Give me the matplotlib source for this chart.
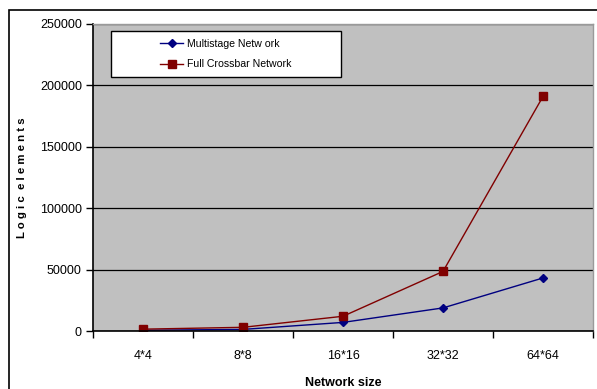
import matplotlib.pyplot as plt
from matplotlib.patches import Rectangle
import numpy as np

sizes = ["4*4", "8*8", "16*16", "32*32", "64*64"]
multistage = [600, 1300, 7000, 18800, 43200]
crossbar = [1500, 3000, 12000, 48500, 191000]

plt.rcParams['font.family'] = ['Liberation Sans', 'DejaVu Sans']

W, H = 597, 389
fig = plt.figure(figsize=(W / 100, H / 100), dpi=100)

# outer chart frame, open at right and bottom
fig.patches.append(Rectangle((9 / W, -0.1), 1.2, 1.1 - 10 / H,
                             transform=fig.transFigure, fill=False,
                             edgecolor='black', linewidth=1.2, zorder=0))

ax = fig.add_axes([93 / W, (H - 331) / H, 500 / W, 307 / H])
ax.set_facecolor('#C0C0C0')

x = np.arange(len(sizes))
ax.plot(x, multistage, color='#000080', marker='D', markersize=4.5,
        linewidth=1, label='Multistage Netw ork')
ax.plot(x, crossbar, color='#800000', marker='s', markersize=5.5,
        linewidth=1, label='Full Crossbar Network')

ax.set_xlim(-0.5, len(sizes) - 0.5)
ax.set_ylim(0, 250000)
ax.set_yticks(np.arange(0, 250001, 50000))
ax.yaxis.grid(True, color='black', linewidth=0.9)
ax.set_axisbelow(True)

ax.set_xticks(x)
ax.set_xticklabels(sizes)
ax.set_xticks(np.arange(-0.5, len(sizes)), minor=True)
ax.tick_params(axis='x', which='major', length=0, pad=14, labelsize=9)
ax.tick_params(axis='x', which='minor', length=5, direction='out', width=1)
ax.tick_params(axis='y', length=5, width=1, labelsize=9, pad=3)

for side in ('left', 'bottom'):
    ax.spines[side].set_color('black')
    ax.spines[side].set_linewidth(1.2)
for side in ('top', 'right'):
    ax.spines[side].set_color('#9a9a9a')
    ax.spines[side].set_linewidth(1)

ax.set_xlabel('Network size', fontsize=9, fontweight='bold')
ax.xaxis.set_label_coords(0.5, -(377 - 331) / 307)
ax.set_ylabel('L o g i c  e l e m e n t s', fontsize=8.2, fontweight='bold')
ax.yaxis.set_label_coords(-(93 - 27) / 500, 0.5)

# legend: white box with the entries centred inside it
box_l, box_r, box_t, box_b = 111, 341, 31, 77
fig.patches.append(Rectangle((box_l / W, 1 - box_b / H),
                             (box_r - box_l) / W, (box_b - box_t) / H,
                             transform=fig.transFigure, facecolor='white',
                             edgecolor='black', linewidth=1, zorder=3))
leg = fig.legend(*ax.get_legend_handles_labels(), loc='center',
                 bbox_to_anchor=((box_l + box_r) / 2 / W,
                                 1 - (box_t + box_b) / 2 / H),
                 fontsize=7.6, frameon=False, handlelength=2.2,
                 labelspacing=1.0, handletextpad=0.4)
leg.set_zorder(4)

fig.savefig('out.png', dpi=100)
